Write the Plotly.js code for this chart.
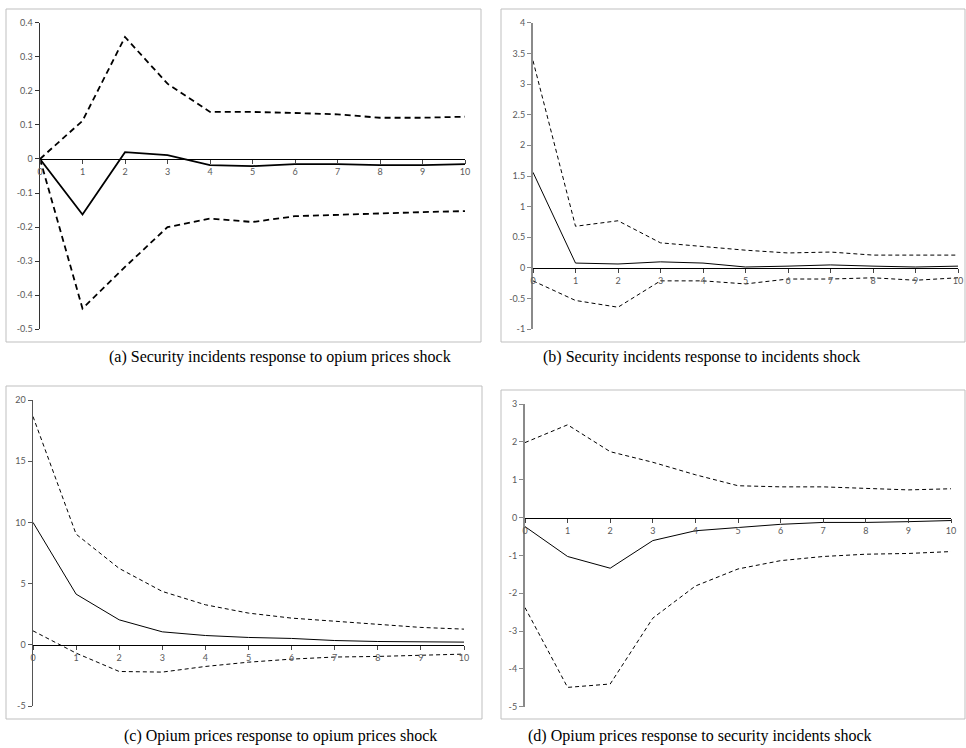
<!DOCTYPE html>
<html>
<head>
<meta charset="utf-8">
<script src="https://cdn.plot.ly/plotly-3.0.1.min.js"></script>
<style>
  html, body { margin: 0; padding: 0; background: #fff; }
  #chart { width: 966px; height: 748px; }
</style>
</head>
<body>
<div id="chart"></div>
<script>
// ---------- DATA ----------
const periods = [0, 1, 2, 3, 4, 5, 6, 7, 8, 9, 10];
const xTickLabels = ["0", "1", "2", "3", "4", "5", "6", "7", "8", "9", "10"];

// (a) Security incidents response to opium prices shock
const aUpper = [0, 0.112, 0.358, 0.221, 0.138, 0.138, 0.135, 0.131, 0.121, 0.121, 0.124];
const aIrf   = [0, -0.163, 0.020, 0.011, -0.018, -0.021, -0.015, -0.015, -0.018, -0.018, -0.015];
const aLower = [0, -0.439, -0.317, -0.200, -0.175, -0.185, -0.168, -0.163, -0.160, -0.156, -0.153];
const aTickVals = [-0.5, -0.4, -0.3, -0.2, -0.1, 0, 0.1, 0.2, 0.3, 0.4];
const aTickText = ["-0.5", "-0.4", "-0.3", "-0.2", "-0.1", "0", "0.1", "0.2", "0.3", "0.4"];

// (b) Security incidents response to incidents shock
const bUpper = [3.38, 0.68, 0.77, 0.41, 0.35, 0.29, 0.245, 0.26, 0.21, 0.21, 0.21];
const bIrf   = [1.56, 0.08, 0.065, 0.10, 0.08, 0.016, 0.03, 0.05, 0.03, 0.016, 0.03];
const bLower = [-0.21, -0.53, -0.64, -0.21, -0.21, -0.26, -0.18, -0.18, -0.16, -0.20, -0.16];
const bTickVals = [-1, -0.5, 0, 0.5, 1, 1.5, 2, 2.5, 3, 3.5, 4];
const bTickText = ["-1", "-0.5", "0", "0.5", "1", "1.5", "2", "2.5", "3", "3.5", "4"];

// (c) Opium prices response to opium prices shock
const cUpper = [18.65, 9.04, 6.24, 4.36, 3.27, 2.59, 2.18, 1.91, 1.66, 1.42, 1.28];
const cIrf   = [10.0, 4.14, 2.04, 1.06, 0.76, 0.60, 0.52, 0.35, 0.27, 0.27, 0.22];
const cLower = [1.14, -0.68, -2.18, -2.23, -1.77, -1.42, -1.17, -1.00, -0.95, -0.87, -0.76];
const cTickVals = [-5, 0, 5, 10, 15, 20];
const cTickText = ["-5", "0", "5", "10", "15", "20"];

// (d) Opium prices response to security incidents shock
const dUpper = [1.98, 2.45, 1.74, 1.46, 1.13, 0.84, 0.81, 0.81, 0.77, 0.73, 0.76];
const dIrf   = [-0.24, -1.03, -1.34, -0.61, -0.35, -0.26, -0.18, -0.13, -0.13, -0.11, -0.08];
const dLower = [-2.38, -4.49, -4.40, -2.66, -1.81, -1.36, -1.14, -1.03, -0.97, -0.95, -0.90];
const dTickVals = [-5, -4, -3, -2, -1, 0, 1, 2, 3];
const dTickText = ["-5", "-4", "-3", "-2", "-1", "0", "1", "2", "3"];

const captions = [
  "(a) Security incidents response to opium prices shock",
  "(b) Security incidents response to incidents shock",
  "(c) Opium prices response to opium prices shock",
  "(d) Opium prices response to security incidents shock"
];

// ---------- LAYOUT HELPERS ----------
const W = 966, H = 748;
const px = v => v / W;
const py = v => 1 - v / H;

const panels = [
  { x0: 40,  x1: 465, yt: 22.7, yb: 329.3, range: [-0.5, 0.4], box: [6, 9, 481, 342],
    ax: "#333333", axw: 1.5, lw: 1.8, dash: "6px,4px", tv: aTickVals, tt: aTickText,
    up: aUpper, irf: aIrf, lo: aLower, cap: [280, 357] },
  { x0: 533, x1: 958, yt: 22.7, yb: 329.3, range: [-1, 4], box: [501, 9, 965, 342],
    ax: "#8a8a8a", axw: 2, lw: 1, dash: "4px,3px", tv: bTickVals, tt: bTickText,
    up: bUpper, irf: bIrf, lo: bLower, cap: [701, 357] },
  { x0: 33,  x1: 464, yt: 400, yb: 706, range: [-5, 20], box: [6, 386, 482, 719],
    ax: "#555555", axw: 1.5, lw: 1, dash: "4px,3px", tv: cTickVals, tt: cTickText,
    up: cUpper, irf: cIrf, lo: cLower, cap: [280, 736] },
  { x0: 525, x1: 951, yt: 404, yb: 706.7, range: [-5, 3], box: [501, 390, 965, 719],
    ax: "#8a8a8a", axw: 2, lw: 1, dash: "4px,3px", tv: dTickVals, tt: dTickText,
    up: dUpper, irf: dIrf, lo: dLower, cap: [699, 736] }
];

const tickFont = { family: "Lato, 'Open Sans', sans-serif", size: 9, color: "#595959" };
const traces = [];
const layout = {
  width: W, height: H,
  margin: { l: 0, r: 0, t: 0, b: 0, pad: 0 },
  paper_bgcolor: "#ffffff", plot_bgcolor: "rgba(0,0,0,0)",
  showlegend: false,
  shapes: [], annotations: []
};

panels.forEach((p, i) => {
  const n = i === 0 ? "" : String(i + 1);
  const xa = "x" + n, ya = "y" + n;
  const yDom = [py(p.yb), py(p.yt)];
  const zeroPos = yDom[0] + (0 - p.range[0]) / (p.range[1] - p.range[0]) * (yDom[1] - yDom[0]);

  layout["xaxis" + n] = {
    domain: [px(p.x0), px(p.x1)],
    range: [0, 10], anchor: "free", position: zeroPos,
    showline: true, linecolor: "#000000", linewidth: 1.5,
    showgrid: false, zeroline: false,
    tickvals: periods, ticktext: xTickLabels,
    ticks: "outside", ticklen: 4, tickwidth: 1, tickcolor: "#444444",
    tickfont: tickFont, fixedrange: true
  };
  layout["yaxis" + n] = {
    domain: yDom, range: p.range, anchor: xa,
    showline: true, linecolor: p.ax, linewidth: p.axw,
    showgrid: false, zeroline: false,
    tickvals: p.tv, ticktext: p.tt,
    ticks: "outside", ticklen: 4, tickwidth: 1, tickcolor: p.ax,
    tickfont: tickFont, fixedrange: true
  };

  [[p.up, true], [p.irf, false], [p.lo, true]].forEach(([vals, dashed]) => {
    traces.push({
      type: "scatter", mode: "lines", x: periods, y: vals,
      xaxis: xa, yaxis: ya, cliponaxis: false,
      line: { color: "#000000", width: p.lw, dash: dashed ? p.dash : "solid" },
      hoverinfo: "skip"
    });
  });

  layout.shapes.push({
    type: "rect", xref: "paper", yref: "paper",
    x0: px(p.box[0]), x1: px(p.box[2]), y0: py(p.box[3]), y1: py(p.box[1]),
    line: { color: "#bfbfbf", width: 1 }, layer: "below"
  });
  layout.annotations.push({
    xref: "paper", yref: "paper", x: px(p.cap[0]), y: py(p.cap[1]),
    xanchor: "center", yanchor: "middle", showarrow: false,
    text: captions[i],
    font: { family: "'Liberation Serif', 'DejaVu Serif', serif", size: 16, color: "#000000" }
  });
});

Plotly.newPlot("chart", traces, layout, { staticPlot: true, displayModeBar: false });
</script>
</body>
</html>
